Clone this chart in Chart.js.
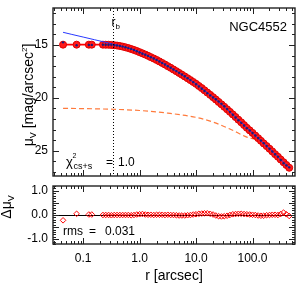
<!DOCTYPE html>
<html>
<head>
<meta charset="utf-8">
<script src="https://cdn.jsdelivr.net/npm/chart.js@4.4.0/dist/chart.umd.min.js"></script>
<style>
  html, body { margin: 0; padding: 0; background: #fff; }
  #wrap { position: relative; width: 300px; height: 285px; }
  canvas { position: absolute; left: 0; }
</style>
</head>
<body>
<div id="wrap">
  <canvas id="top" width="300" height="181" style="top:0"></canvas>
  <canvas id="bot" width="300" height="104" style="top:181px"></canvas>
</div>
<script>
// radii (arcsec) of the profile points
const radius = [0.044, 0.0765, 0.126, 0.142,
  0.224, 0.251, 0.282, 0.316, 0.355, 0.398, 0.447, 0.501, 0.562, 0.631, 0.708, 0.794, 0.891,
  1.00, 1.12, 1.26, 1.41, 1.58, 1.78, 2.00, 2.24, 2.51, 2.82, 3.16, 3.55, 3.98, 4.47, 5.01, 5.62, 6.31, 7.08, 7.94, 8.91,
  10.0, 11.2, 12.6, 14.1, 15.8, 17.8, 20.0, 22.4, 25.1, 28.2, 31.6, 35.5, 39.8, 44.7, 50.1, 56.2, 63.1, 70.8, 79.4, 89.1,
  100, 112, 126, 141, 158, 178, 200, 224, 251, 282, 316, 355, 398, 447];

// core-Sersic + Sersic model surface brightness (mag/arcsec^2)
const muModel = [14.97, 14.97, 14.97, 14.97,
  14.97, 14.975, 14.98, 14.995, 15.02, 15.055, 15.10, 15.155, 15.22, 15.295, 15.38, 15.47, 15.57,
  15.68, 15.79, 15.905, 16.025, 16.15, 16.28, 16.415, 16.555, 16.70, 16.85, 17.005, 17.16, 17.32, 17.48, 17.645, 17.81, 17.98, 18.15, 18.325, 18.50,
  18.68, 18.88, 19.08, 19.29, 19.50, 19.72, 19.94, 20.16, 20.39, 20.62, 20.85, 21.09, 21.33, 21.57, 21.82, 22.07, 22.32, 22.58, 22.84, 23.08,
  23.32, 23.57, 23.82, 24.07, 24.32, 24.57, 24.82, 25.07, 25.33, 25.58, 25.84, 26.10, 26.36, 26.62];

// residuals data - model
const dMu = [-0.22, 0.05, 0.02, 0.02,
  0.0, 0.0, 0.0, -0.01, 0.0, 0.0, 0.0, 0.0, 0.0, 0.0, -0.01, 0.0, 0.02,
  0.03, 0.04, 0.02, 0.01, 0.01, 0.0, 0.01, 0.01, 0.01, 0.0, 0.01, 0.0, 0.0, -0.01, -0.02, -0.02, -0.02, -0.01, 0.0, 0.02,
  0.03, 0.05, 0.06, 0.07, 0.07, 0.05, 0.02, -0.02, -0.05, -0.06, -0.05, -0.03, 0.0, 0.03, 0.04, 0.05, 0.05, 0.04, 0.03, 0.02,
  0.01, 0.0, -0.02, -0.03, -0.03, -0.01, 0.0, 0.01, 0.01, 0.0, 0.04, 0.1, 0.03, -0.04];

// inward extrapolation of the Sersic part (blue)
const sersicR = [0.044, 0.063, 0.1, 0.158, 0.251, 0.355, 0.501];
const sersicMu = [13.8, 14.0, 14.25, 14.5, 14.75, 14.95, 15.13];

// outer Sersic component (orange dashed)
const compR = [0.044, 0.1, 0.316, 1.0, 3.16, 10.0, 20.0, 39.8, 79.4, 126, 200, 316, 447];
const compMu = [21.0, 21.02, 21.08, 21.2, 21.45, 21.85, 22.3, 22.95, 23.72, 24.05, 24.95, 25.95, 26.7];

const rBreak = 0.334;
const xTickValues = [0.1, 1, 10, 100];
const xTickLabels = ['0.1', '1.0', '10.0', '100.0'];
const muTickValues = [15, 20, 25];
const muTickLabels = ['15', '20', '25'];
const resTickValues = [-1, -0.5, 0, 0.5, 1];
const resTickLabels = ['-1.0', '-0.5', '0.0', '0.5', '1.0'];

const FONT = '"Liberation Sans", Arial, sans-serif';
const X_MIN = 0.0292, X_MAX = 566;

function pts(xs, ys) {
  return xs.map((v, i) => ({ x: v, y: ys[i] }));
}

function richText(ctx, parts, x, y, align) {
  let w = 0;
  parts.forEach(p => { ctx.font = p[1] + 'px ' + FONT; w += ctx.measureText(p[0]).width; });
  let cx = align === 'center' ? x - w / 2 : align === 'right' ? x - w : x;
  parts.forEach(p => {
    ctx.font = p[1] + 'px ' + FONT;
    ctx.fillText(p[0], cx, y + (p[2] || 0));
    cx += ctx.measureText(p[0]).width;
  });
}

// no automatic label padding, the box is placed by layout.padding
function noPad(s) {
  s.paddingTop = 0; s.paddingBottom = 0; s.paddingLeft = 0; s.paddingRight = 0;
}

// IDL-style box with inward ticks on all sides
const boxTicks = {
  id: 'boxTicks',
  afterDatasetsDraw(chart, args, opts) {
    const { ctx, chartArea: a, scales: { x, y } } = chart;
    ctx.save();
    ctx.strokeStyle = '#222';
    ctx.lineWidth = 1;
    const seg = (x1, y1, x2, y2) => { ctx.beginPath(); ctx.moveTo(x1, y1); ctx.lineTo(x2, y2); ctx.stroke(); };
    for (let d = -2; d <= 2; d++) {
      for (let k = 1; k <= 9; k++) {
        const v = k * Math.pow(10, d);
        if (v < X_MIN || v > X_MAX) continue;
        const px = Math.round(x.getPixelForValue(v)) + 0.5;
        const len = k === 1 ? 6 : 3;
        seg(px, a.top, px, a.top + len);
        seg(px, a.bottom, px, a.bottom - len);
      }
    }
    for (let i = 0; ; i++) {
      const v = opts.yStart + i * opts.yMinor;
      if (v > opts.yEnd + 1e-9) break;
      const py = Math.round(y.getPixelForValue(v)) + 0.5;
      const r = v / opts.yMajor;
      const len = Math.abs(r - Math.round(r)) < 1e-6 ? 6 : 3;
      seg(a.left, py, a.left + len, py);
      seg(a.right, py, a.right - len, py);
    }
    ctx.lineWidth = 1.4;
    ctx.strokeRect(a.left, a.top, a.right - a.left, a.bottom - a.top);
    ctx.restore();
  }
};

const topText = {
  id: 'topText',
  afterDraw(chart) {
    const { ctx, chartArea: a, scales: { x } } = chart;
    ctx.save();
    // break radius
    const bx = Math.round(x.getPixelForValue(rBreak)) + 0.5;
    ctx.strokeStyle = '#000';
    ctx.lineWidth = 1;
    ctx.setLineDash([1, 2]);
    ctx.beginPath(); ctx.moveTo(bx, a.top); ctx.lineTo(bx, a.bottom); ctx.stroke();
    ctx.setLineDash([]);
    ctx.fillStyle = '#000';
    ctx.textBaseline = 'alphabetic';
    richText(ctx, [['r', 12, 0], ['b', 8, 3]], bx - 2, 26, 'left');
    richText(ctx, [['NGC4552', 13, 0]], 287, 31, 'right');
    richText(ctx, [['\u03C7', 13, 0]], 66, 166, 'left');
    richText(ctx, [['2', 7, 0]], 72.5, 158, 'left');
    richText(ctx, [['cs+s', 9, 0]], 73.5, 169, 'left');
    richText(ctx, [['=', 12, 0]], 106, 166, 'left');
    richText(ctx, [['1.0', 12, 0]], 118, 166, 'left');
    // y title
    ctx.translate(33, 95);
    ctx.rotate(-Math.PI / 2);
    richText(ctx, [['\u03BC', 14, 0], ['V', 9, 3], [' [mag/arcsec', 14, 0], ['2', 8, -6], [']', 14, 0]], 0, 0, 'center');
    ctx.restore();
  }
};

const botText = {
  id: 'botText',
  afterDraw(chart) {
    const { ctx, chartArea: a } = chart;
    ctx.save();
    ctx.fillStyle = '#000';
    richText(ctx, [['rms', 12, 0]], 63, 54, 'left');
    richText(ctx, [['=', 12, 0]], 89, 54, 'left');
    richText(ctx, [['0.031', 12, 0]], 105, 54, 'left');
    richText(ctx, [['r [arcsec]', 14, 0]], (a.left + a.right) / 2, 99, 'center');
    ctx.translate(11, 26);
    ctx.rotate(-Math.PI / 2);
    richText(ctx, [['\u0394\u03BC', 14, 0], ['V', 9, 3]], 0, 0, 'center');
    ctx.restore();
  }
};

const zeroLine = {
  id: 'zeroLine',
  beforeDatasetsDraw(chart) {
    const { ctx, chartArea: a, scales: { y } } = chart;
    const py = Math.round(y.getPixelForValue(0)) + 0.5;
    ctx.save();
    ctx.strokeStyle = '#000';
    ctx.lineWidth = 1;
    ctx.beginPath(); ctx.moveTo(a.left, py); ctx.lineTo(a.right, py); ctx.stroke();
    ctx.restore();
  }
};

const tickFont = { family: FONT, size: 12 };

// upper panel
new Chart(document.getElementById('top'), {
  type: 'scatter',
  data: {
    datasets: [
      {
        data: pts(radius, muModel.map((m, i) => m + dMu[i])),
        pointRadius: 1.2, pointBackgroundColor: '#1c1c7a', pointBorderWidth: 0,
        showLine: false, order: 0
      },
      {
        data: pts(sersicR.concat(radius.slice(12)), sersicMu.concat(muModel.slice(12))),
        showLine: true, borderColor: '#2838ff', borderWidth: 1, pointRadius: 0, order: 1
      },
      {
        data: pts(radius, muModel),
        showLine: true, borderColor: '#ff0000', borderWidth: 1.6,
        pointStyle: 'circle', pointRadius: 3.5, pointBackgroundColor: '#ff1a1a',
        pointBorderColor: '#e00000', pointBorderWidth: 1, order: 2
      },
      {
        data: pts(compR, compMu),
        showLine: true, borderColor: '#ff7a3c', borderWidth: 1.2, borderDash: [5, 3],
        cubicInterpolationMode: 'monotone', pointRadius: 0, order: 3
      }
    ]
  },
  options: {
    responsive: false,
    animation: false,
    devicePixelRatio: 1,
    layout: { padding: { top: 8, left: 0, right: 4, bottom: 2 } },
    plugins: { legend: { display: false }, tooltip: { enabled: false },
      boxTicks: { yStart: 12, yEnd: 27, yMinor: 1, yMajor: 5 } },
    scales: {
      x: {
        type: 'logarithmic', min: X_MIN, max: X_MAX,
        grid: { display: false, drawTicks: false }, border: { display: false },
        ticks: { display: false },
        afterFit: s => { s.height = 0; noPad(s); }
      },
      y: {
        min: 11.5, max: 27.4, reverse: true,
        grid: { display: false, drawTicks: false }, border: { display: false },
        afterBuildTicks: s => { s.ticks = muTickValues.map(v => ({ value: v })); },
        ticks: { font: tickFont, color: '#000', padding: 5,
          callback: v => muTickLabels[muTickValues.indexOf(v)] },
        afterFit: s => { s.width = 53; noPad(s); }
      }
    }
  },
  plugins: [boxTicks, topText]
});

// residual panel
new Chart(document.getElementById('bot'), {
  type: 'scatter',
  data: {
    datasets: [
      {
        data: pts(radius, dMu),
        pointStyle: 'rectRot', pointRadius: 2.8, pointBorderWidth: 1,
        pointBorderColor: '#ff0000', pointBackgroundColor: 'rgba(255,255,255,0)',
        showLine: false
      }
    ]
  },
  options: {
    responsive: false,
    animation: false,
    devicePixelRatio: 1,
    layout: { padding: { top: 2, left: 0, right: 4, bottom: 0 } },
    plugins: { legend: { display: false }, tooltip: { enabled: false },
      boxTicks: { yStart: -1.2, yEnd: 1.2, yMinor: 0.1, yMajor: 0.5 } },
    scales: {
      x: {
        type: 'logarithmic', min: X_MIN, max: X_MAX,
        grid: { display: false, drawTicks: false }, border: { display: false },
        afterBuildTicks: s => { s.ticks = xTickValues.map(v => ({ value: v })); },
        ticks: { font: tickFont, color: '#000', padding: 7, autoSkip: false, maxRotation: 0,
          callback: v => xTickLabels[xTickValues.indexOf(v)] },
        afterFit: s => { s.height = 41; noPad(s); }
      },
      y: {
        min: -1.2, max: 1.2,
        grid: { display: false, drawTicks: false }, border: { display: false },
        afterBuildTicks: s => { s.ticks = resTickValues.map(v => ({ value: v })); },
        ticks: { font: tickFont, color: '#000', padding: 5,
          callback: v => resTickLabels[resTickValues.indexOf(v)] },
        afterFit: s => { s.width = 53; noPad(s); }
      }
    }
  },
  plugins: [zeroLine, boxTicks, botText]
});
</script>
</body>
</html>
